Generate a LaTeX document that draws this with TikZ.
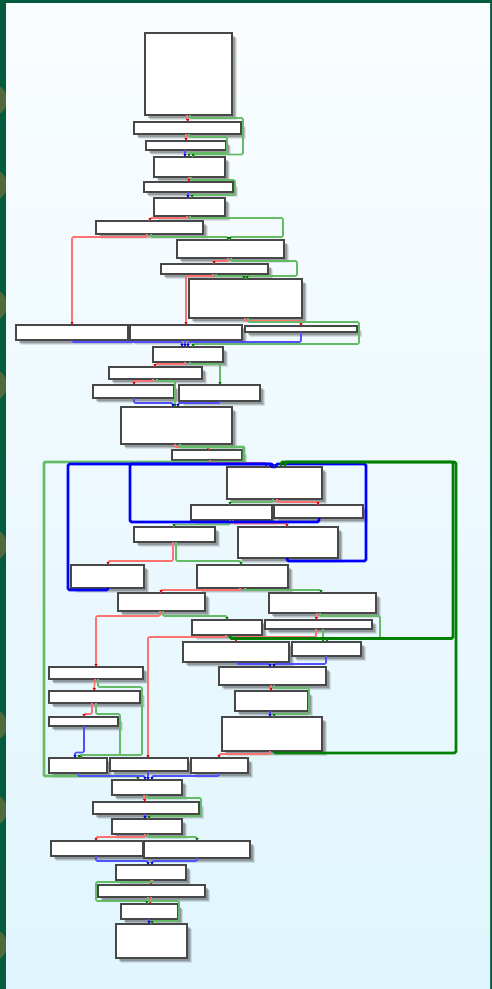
\documentclass[tikz,border=0pt]{standalone}
\usetikzlibrary{arrows.meta,shadows}
\definecolor{bgG}{HTML}{035C3E}
\definecolor{olv}{HTML}{4F6B3C}
\definecolor{lr}{HTML}{FF7272}
\definecolor{lg}{HTML}{66BB66}
\definecolor{lb}{HTML}{5050FF}
\definecolor{dg}{HTML}{008000}
\tikzset{
 blk/.style={draw=black!72,line width=1.1pt,fill=white,inner sep=0pt,outer sep=0pt,
   drop shadow={shadow xshift=5pt,shadow yshift=-5pt,fill=black,opacity=.10},
   drop shadow={shadow xshift=4pt,shadow yshift=-4pt,fill=black,opacity=.14},
   drop shadow={shadow xshift=2.5pt,shadow yshift=-2.5pt,fill=black,opacity=.2}},
 edg/.style={line width=1.6pt,rounded corners=1.2pt},
 rd/.style={edg,draw=lr,-{Latex[length=3pt,width=3.5pt,color=red!85!black]}},
 gn/.style={edg,draw=lg,-{Latex[length=3pt,width=3.5pt,color=green!45!black]}},
 bl/.style={edg,draw=lb,-{Latex[length=3pt,width=3.5pt,color=blue!80!black]}},
 gnT/.style={gn,line width=2.8pt},
 BL/.style={line width=2.8pt,draw=blue,rounded corners=1.5pt,-{Latex[length=3pt,width=4pt]}},
 GN/.style={line width=2.8pt,draw=dg,rounded corners=1.5pt,-{Latex[length=3pt,width=4pt]}},
}
\newcommand\bx[5]{\node[blk,minimum width={(#4-#2)*1pt},minimum height={(#5-#3)*1pt}] (#1) at ({(#2+#4)/2},{(#3+#5)/2}) {};}
\begin{document}
\begin{tikzpicture}[x=1pt,y=-1pt]
\useasboundingbox (0,0) rectangle (492,989);
\fill[bgG] (0,0) rectangle (492,989);
\begin{scope}
\clip (0,0) rectangle (492,989);
\foreach \yy in {100,185,305,385,545,725,810,945} {\fill[olv] (-10,\yy) circle (17);}
\end{scope}
\shade[top color={rgb,255:red,250;green,253;blue,255},bottom color={rgb,255:red,223;green,245;blue,253}] (6,3) rectangle (490,989);

\bx{B1}{145}{33}{232}{115}
\bx{B2}{134}{122}{241}{134}
\bx{B3}{146}{141}{226}{150}
\bx{B4}{154}{157}{225}{177}
\bx{B5}{144}{182}{233}{192}
\bx{B6}{154}{198}{225}{216}
\bx{B7}{96}{221}{203}{234}
\bx{B8}{177}{240}{284}{258}
\bx{B9}{161}{264}{268}{274}
\bx{B10}{189}{279}{302}{318}
\bx{B11}{16}{325}{128}{340}
\bx{B12}{130}{325}{242}{340}
\bx{B13}{245}{326}{357}{332}
\bx{B14}{153}{347}{223}{362}
\bx{B15}{109}{367}{202}{379}
\bx{B16}{93}{385}{174}{398}
\bx{B17}{179}{385}{260}{401}
\bx{B18}{121}{407}{232}{444}
\bx{B19}{172}{450}{242}{460}
\bx{B20}{227}{467}{322}{499}
\bx{B21}{191}{505}{272}{520}
\bx{B22}{274}{505}{363}{518}
\bx{B23}{134}{527}{215}{542}
\bx{B24}{238}{527}{338}{558}
\bx{B25}{71}{565}{144}{588}
\bx{B26}{197}{565}{288}{588}
\bx{B27}{118}{593}{205}{611}
\bx{B28}{269}{593}{376}{613}
\bx{B29}{192}{620}{262}{635}
\bx{B30}{265}{620}{372}{629}
\bx{B31}{183}{642}{289}{662}
\bx{B32}{292}{642}{361}{656}
\bx{B33}{49}{667}{143}{679}
\bx{B34}{219}{667}{326}{685}
\bx{B35}{49}{691}{140}{703}
\bx{B36}{235}{691}{308}{711}
\bx{B37}{49}{717}{118}{726}
\bx{B38}{222}{717}{322}{751}
\bx{B39}{49}{758}{107}{773}
\bx{B40}{110}{758}{188}{771}
\bx{B41}{191}{758}{248}{773}
\bx{B42}{112}{780}{182}{795}
\bx{B43}{93}{802}{199}{814}
\bx{B44}{112}{819}{182}{834}
\bx{B45}{51}{841}{143}{856}
\bx{B46}{144}{841}{250}{858}
\bx{B47}{116}{865}{186}{880}
\bx{B48}{98}{885}{205}{897}
\bx{B49}{121}{904}{178}{919}
\bx{B50}{116}{924}{187}{958}

% top chain
\draw[rd] (B1.south -| 187,0) -- (B2.north -| 188,0);
\draw[gn] (B1.south -| 190,0) -- (190,118) -- (243,118) -- (243,154.5) -- (193,154.5) -- (B4.north -| 193,0);
\draw[rd] (B2.south -| 186,0) -- (B3.north -| 186,0);
\draw[gn] (B2.south -| 189,0) -- (189,137) -- (227,137) -- (227,153) -- (189,153) -- (B4.north -| 189,0);
\draw[bl] (B3.south -| 185,0) -- (B4.north -| 185,0);
\draw[rd] (B4.south -| 189,0) -- (B5.north -| 189,0);
\draw[gn] (B4.south -| 191,0) -- (191,180) -- (235,180) -- (235,195) -- (192,195) -- (B6.north -| 192,0);
\draw[bl] (B5.south -| 188,0) -- (B6.north -| 188,0);
\draw[rd] (B6.south -| 187,0) -- (187,218) -- (150,218) -- (B7.north -| 150,0);
\draw[gn] (B6.south -| 190,0) -- (190,218) -- (283,218) -- (283,237) -- (230,237) -- (B8.north -| 230,0);
\draw[rd] (B7.south -| 147,0) -- (147,237) -- (72,237) -- (B11.north -| 72,0);
\draw[gn] (B7.south -| 151,0) -- (151,237) -- (228,237) -- (B8.north -| 228,0);
\draw[rd] (B8.south -| 228,0) -- (228,261) -- (214,261) -- (B9.north -| 214,0);
\draw[gn] (B8.south -| 231,0) -- (231,261) -- (297,261) -- (297,276) -- (247,276) -- (B10.north -| 247,0);
\draw[rd] (B9.south -| 213,0) -- (213,276) -- (186,276) -- (B12.north -| 186,0);
\draw[gn] (B9.south -| 216,0) -- (216,276) -- (244,276) -- (B10.north -| 244,0);
\draw[rd] (B10.south -| 245,0) -- (245,321) -- (301,321) -- (B13.north -| 301,0);
\draw[gn] (B10.south -| 248,0) -- (248,322) -- (359,322) -- (359,344) -- (193,344) -- (B14.north -| 193,0);
\draw[bl] (B11.south -| 72,0) -- (72,342) -- (182,342) -- (B14.north -| 182,0);
\draw[bl] (B12.south -| 185,0) -- (B14.north -| 185,0);
\draw[bl] (B13.south -| 301,0) -- (301,342) -- (188,342) -- (B14.north -| 188,0);
\draw[rd] (B14.south -| 185,0) -- (185,364) -- (155,364) -- (B15.north -| 155,0);
\draw[gn] (B14.south -| 190,0) -- (190,364) -- (220,364) -- (B17.north -| 220,0);
\draw[rd] (B15.south -| 153,0) -- (153,381) -- (134,381) -- (B16.north -| 134,0);
\draw[gn] (B15.south -| 157,0) -- (157,381) -- (175,381) -- (B18.north -| 175,0);
\draw[bl] (B16.south -| 134,0) -- (134,403) -- (173,403) -- (B18.north -| 173,0);
\draw[bl] (B17.south -| 220,0) -- (220,403) -- (178,403) -- (B18.north -| 178,0);
\draw[rd] (B18.south -| 175,0) -- (175,447) -- (208,447) -- (B19.north -| 208,0);
\draw[gnT] (B18.south -| 180,0) -- (180,447) -- (244,447) -- (244,462) -- (44,462) -- (44,776) -- (138,776) -- (B42.north -| 138,0);
\draw[rd] (B19.south -| 210,0) -- (210,463) -- (266,463) -- (B20.north -| 266,0);

% loop interior
\draw[gn] (B20.south -| 273,0) -- (273,502) -- (230,502) -- (B21.north -| 230,0);
\draw[rd] (B20.south -| 277,0) -- (277,502) -- (318,502) -- (B22.north -| 318,0);
\draw[gn] (B21.south -| 230,0) -- (230,524.5) -- (174,524.5) -- (B23.north -| 174,0);
\draw[rd] (B21.south -| 233,0) -- (233,523.5) -- (287,523.5) -- (B24.north -| 287,0);
\draw[rd] (B23.south -| 173,0) -- (173,561) -- (108,561) -- (B25.north -| 108,0);
\draw[gn] (B23.south -| 176,0) -- (176,561) -- (241,561) -- (B26.north -| 241,0);
\draw[rd] (B26.south -| 240,0) -- (240,590) -- (161,590) -- (B27.north -| 161,0);
\draw[gn] (B26.south -| 245,0) -- (245,590) -- (321,590) -- (B28.north -| 321,0);
\draw[rd] (B27.south -| 160,0) -- (160,616) -- (96,616) -- (B33.north -| 96,0);
\draw[gn] (B27.south -| 163,0) -- (163,616) -- (227,616) -- (B29.north -| 227,0);
\draw[rd] (B28.south -| 317,0) -- (B30.north -| 316,0);
\draw[gn] (B28.south -| 320,0) -- (320,616) -- (380,616) -- (380,638) -- (327,638) -- (B32.north -| 327,0);
\draw[rd] (B29.south -| 226,0) -- (226,637) -- (148,637) -- (B40.north -| 148,0);
\draw[rd] (B30.south -| 316,0) -- (316,637) -- (236,637) -- (B31.north -| 236,0);
\draw[gn] (B30.south -| 323,0) -- (B32.north -| 323,0);
\draw[bl] (B31.south -| 237,0) -- (237,664) -- (270,664) -- (B34.north -| 270,0);
\draw[bl] (B32.south -| 326,0) -- (326,664) -- (274,664) -- (B34.north -| 274,0);
\draw[rd] (B34.south -| 271,0) -- (B36.north -| 271,0);
\draw[gn] (B34.south -| 274,0) -- (274,688) -- (309,688) -- (309,714) -- (274,714) -- (B38.north -| 274,0);
\draw[bl] (B36.south -| 270,0) -- (B38.north -| 270,0);
\draw[rd] (B38.south -| 270,0) -- (270,754) -- (219,754) -- (B41.north -| 219,0);
\draw[rd] (B33.south -| 95,0) -- (B35.north -| 94,0);
\draw[gn] (B33.south -| 98,0) -- (98,687) -- (142,687) -- (142,755) -- (81,755) -- (B39.north -| 81,0);
\draw[rd] (B35.south -| 92,0) -- (92,714) -- (84,714) -- (B37.north -| 84,0);
\draw[gn] (B35.south -| 96,0) -- (96,714) -- (120,714) -- (120,755) -- (79,755) -- (B39.north -| 79,0);
\draw[bl] (B37.south -| 84,0) -- (84,752.5) -- (75,752.5) -- (B39.north -| 75,0);
\draw[bl] (B39.south -| 78,0) -- (78,776) -- (145,776) -- (B42.north -| 145,0);
\draw[bl] (B40.south -| 148,0) -- (B42.north -| 148,0);
\draw[bl] (B41.south -| 219,0) -- (219,776) -- (152,776) -- (B42.north -| 152,0);

% highlighted back edges
\draw[BL] (B25.south -| 108,0) -- (108,590) -- (68,590) -- (68,464) -- (271,464) -- (B20.north -| 271,0);
\draw[BL] (B22.south -| 319,0) -- (319,522) -- (130,522) -- (130,464) -- (273,464) -- (B20.north -| 273,0);
\draw[BL] (B24.south -| 287,0) -- (287,561) -- (366,561) -- (366,464) -- (276,464) -- (B20.north -| 276,0);
\draw[GN] (B38.south -| 274,0) -- (274,753) -- (456,753) -- (456,462) -- (285,462) -- (B20.north -| 285,0);
\draw[GN] (B29.south -| 230,0) -- (230,638.5) -- (453,638.5) -- (453,462) -- (281,462) -- (B20.north -| 281,0);

% bottom chain
\draw[rd] (B42.south -| 144,0) -- (B43.north -| 145,0);
\draw[gn] (B42.south -| 147,0) -- (147,798) -- (201,798) -- (201,816) -- (149,816) -- (B44.north -| 149,0);
\draw[bl] (B43.south -| 145,0) -- (B44.north -| 145,0);
\draw[rd] (B44.south -| 145,0) -- (145,837) -- (96,837) -- (B45.north -| 96,0);
\draw[gn] (B44.south -| 148,0) -- (148,837) -- (197,837) -- (B46.north -| 197,0);
\draw[bl] (B45.south -| 96,0) -- (96,861) -- (148,861) -- (B47.north -| 148,0);
\draw[bl] (B46.south -| 197,0) -- (197,861) -- (152,861) -- (B47.north -| 152,0);
\draw[rd] (B47.south -| 151,0) -- (B48.north -| 151,0);
\draw[gn] (B47.south -| 153,0) -- (153,882) -- (96,882) -- (96,901) -- (147,901) -- (B49.north -| 147,0);
\draw[rd] (B48.south -| 151,0) -- (B49.north -| 150,0);
\draw[gn] (B48.south -| 148,0) -- (148,901) -- (179,901) -- (179,921) -- (152,921) -- (B50.north -| 152,0);
\draw[bl] (B49.south -| 149,0) -- (B50.north -| 149,0);
\end{tikzpicture}
\end{document}
